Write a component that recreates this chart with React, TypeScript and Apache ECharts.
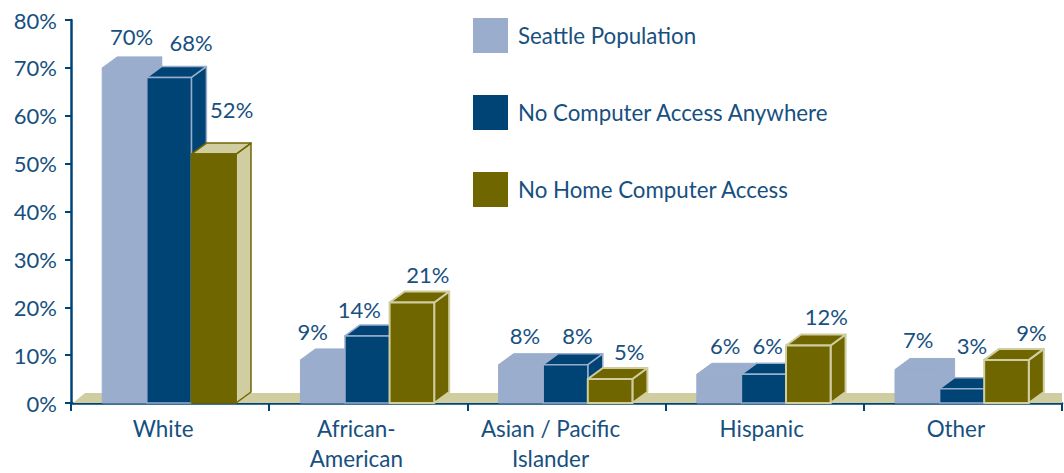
import React, { useEffect, useRef } from "react";
import * as echarts from "echarts";

const categories = ["White", "African-\nAmerican", "Asian / Pacific\nIslander", "Hispanic", "Other"];
const seattlePopulation = [70, 9, 8, 6, 7];
const noComputerAnywhere = [68, 14, 8, 6, 3];
const noHomeComputer = [52, 21, 5, 12, 9];
const yTicks = [0, 10, 20, 30, 40, 50, 60, 70, 80];

const seriesNames = ["Seattle Population", "No Computer Access Anywhere", "No Home Computer Access"];

// label nudges (px) from the top-centre of each bar's front face
const labelNudgeSeattle = [[7, -31], [-10, -28], [4, -29], [6, -29], [1, -30]];
const labelNudgeAnywhere = [[22, -35], [-8, -26], [12, -29], [4, -29], [10, -43]];
const labelNudgeHome = [[18, -45], [16, -28], [19, -28], [18, -29], [25, -27]];
// right padding that moves each category label to its place in the reference
const categoryLabelShift = [14, 24, 32, 6, 14];

const BLUE = "#9aadcd";
const NAVY = "#004475";
const OLIVE = "#706600";
const PALE = "#d0cda0";
const TEXT = "#17507f";
const FONT = "Lato, 'Noto Sans', sans-serif";
const DEPTH_X = 15;
const DEPTH_Y = 11;

type Look = { front: string; top: string; side: string; stroke: string; lw: number };

const looks: ((i: number) => Look)[] = [
  () => ({ front: BLUE, top: BLUE, side: BLUE, stroke: BLUE, lw: 1 }),
  () => ({ front: NAVY, top: NAVY, side: NAVY, stroke: BLUE, lw: 1.5 }),
  (i) =>
    i === 0
      ? { front: OLIVE, top: PALE, side: PALE, stroke: OLIVE, lw: 1.5 }
      : { front: OLIVE, top: OLIVE, side: OLIVE, stroke: PALE, lw: 2 },
];

const nudges = [labelNudgeSeattle, labelNudgeAnywhere, labelNudgeHome];

function boxSeries(name: string, values: number[], s: number) {
  return {
    type: "custom",
    name,
    z: 3 + s,
    clip: false,
    itemStyle: { color: looks[s](1).front },
    encode: { x: 0, y: 1 },
    data: values.map((v, i) => [i, v]),
    renderItem: (params: any, api: any) => {
      const idx = api.value(0);
      const val = api.value(1);
      const band = api.size([1, 0])[0];
      const w = band * 0.225;
      const [cx, yTop] = api.coord([idx, val]);
      const [, yBase] = api.coord([idx, 0]);
      const x0 = cx + (s - 1.5) * w - 1;
      const x1 = x0 + w;
      const look = looks[s](idx);
      const nudge = nudges[s][idx];
      const stroke = { stroke: look.stroke, lineWidth: look.lw, lineJoin: "round" };
      return {
        type: "group",
        children: [
          {
            type: "polygon",
            shape: { points: [[x1, yTop], [x1 + DEPTH_X, yTop - DEPTH_Y], [x1 + DEPTH_X, yBase - DEPTH_Y], [x1, yBase]] },
            style: { fill: look.side, ...stroke },
          },
          {
            type: "polygon",
            shape: { points: [[x0, yTop], [x0 + DEPTH_X, yTop - DEPTH_Y], [x1 + DEPTH_X, yTop - DEPTH_Y], [x1, yTop]] },
            style: { fill: look.top, ...stroke },
          },
          {
            type: "polygon",
            shape: { points: [[x0, yTop], [x1, yTop], [x1, yBase], [x0, yBase]] },
            style: { fill: look.front, ...stroke },
          },
          {
            type: "text",
            z2: 50,
            style: {
              text: `${val}%`,
              x: (x0 + x1) / 2 + nudge[0],
              y: yTop + nudge[1],
              fill: TEXT,
              font: `22px ${FONT}`,
              align: "center",
              verticalAlign: "middle",
            },
          },
        ],
      };
    },
  };
}

const floorSeries = {
  type: "custom",
  name: "floor",
  z: 1,
  silent: true,
  clip: false,
  data: [[0, 0]],
  encode: { x: 0, y: 1 },
  renderItem: (params: any, api: any) => {
    const { x, width } = params.coordSys;
    const [, y0] = api.coord([0, 0]);
    return {
      type: "polygon",
      shape: { points: [[x + 2, y0], [x + 14, y0 - 10], [x + width, y0 - 10], [x + width, y0]] },
      style: { fill: PALE },
    };
  },
};

export default function App() {
  const ref = useRef<HTMLDivElement>(null);
  useEffect(() => {
    document.body.style.margin = "0";
    const chart = echarts.init(ref.current!, undefined, { renderer: "svg" });
    chart.setOption({
      animation: false,
      backgroundColor: "#ffffff",
      grid: { left: 71, right: 2, top: 20, bottom: 70, containLabel: false, outerBoundsMode: "none" },
      legend: {
        left: 468,
        top: 13,
        orient: "vertical",
        icon: "rect",
        itemWidth: 35,
        itemHeight: 35,
        itemGap: 42,
        data: seriesNames,
        selectedMode: false,
        textStyle: { color: TEXT, fontFamily: FONT, fontSize: 22.3, padding: [2, 0, 0, 5] },
      },
      xAxis: {
        type: "category",
        data: categories.map((value, i) => ({
          value,
          textStyle: { padding: [0, categoryLabelShift[i], 0, 0] },
        })),
        axisLine: { lineStyle: { color: NAVY, width: 2.5 } },
        axisTick: { show: true, length: 8, alignWithLabel: false, lineStyle: { color: NAVY, width: 2 } },
        axisLabel: { color: TEXT, fontFamily: FONT, fontSize: 22.4, lineHeight: 30, margin: 10, interval: 0 },
      },
      yAxis: {
        type: "value",
        min: yTicks[0],
        max: yTicks[yTicks.length - 1],
        interval: 10,
        splitLine: { show: false },
        axisLine: { show: true, lineStyle: { color: NAVY, width: 2.5 } },
        axisTick: { show: true, length: 6, lineStyle: { color: NAVY, width: 2 } },
        axisLabel: { color: TEXT, fontFamily: FONT, fontSize: 22, margin: 14, formatter: "{value}%" },
      },
      series: [
        floorSeries,
        boxSeries(seriesNames[0], seattlePopulation, 0),
        boxSeries(seriesNames[1], noComputerAnywhere, 1),
        boxSeries(seriesNames[2], noHomeComputer, 2),
      ],
    });
    return () => chart.dispose();
  }, []);
  return <div ref={ref} style={{ position: "absolute", left: 0, top: 0, width: 1064, height: 473, overflow: "hidden" }} />;
}
